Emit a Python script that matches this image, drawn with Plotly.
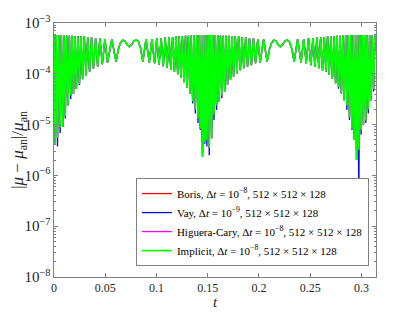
import plotly.graph_objects as go

# time samples (t)
t_vals = [
    0.0000, 0.0011, 0.0022, 0.0034, 0.0047, 0.0060, 0.0072, 0.0085, 0.0098, 0.0110,
    0.0123, 0.0137, 0.0150, 0.0163, 0.0176, 0.0190, 0.0204, 0.0218, 0.0233, 0.0248,
    0.0263, 0.0279, 0.0295, 0.0312, 0.0329, 0.0347, 0.0366, 0.0385, 0.0406, 0.0426,
    0.0448, 0.0471, 0.0497, 0.0522, 0.0564, 0.0605, 0.0630, 0.0649, 0.0671, 0.0693,
    0.0715, 0.0736, 0.0756, 0.0779, 0.0803, 0.0825, 0.0845, 0.0867, 0.0898, 0.0930,
    0.0955, 0.0981, 0.1003, 0.1025, 0.1046, 0.1066, 0.1085, 0.1104, 0.1122, 0.1140,
    0.1157, 0.1175, 0.1191, 0.1207, 0.1222, 0.1238, 0.1253, 0.1268, 0.1283, 0.1297,
    0.1311, 0.1326, 0.1339, 0.1353, 0.1366, 0.1379, 0.1392, 0.1405, 0.1416, 0.1428,
    0.1439, 0.1449, 0.1460, 0.1471, 0.1482, 0.1492, 0.1503, 0.1515, 0.1526, 0.1538,
    0.1550, 0.1561, 0.1574, 0.1586, 0.1598, 0.1611, 0.1624, 0.1637, 0.1651, 0.1665,
    0.1679, 0.1693, 0.1708, 0.1722, 0.1737, 0.1752, 0.1769, 0.1785, 0.1801, 0.1818,
    0.1835, 0.1852, 0.1870, 0.1888, 0.1907, 0.1926, 0.1946, 0.1966, 0.1988, 0.2011,
    0.2045, 0.2080, 0.2104, 0.2124, 0.2144, 0.2167, 0.2188, 0.2209, 0.2229, 0.2252,
    0.2275, 0.2297, 0.2319, 0.2343, 0.2377, 0.2410, 0.2436, 0.2461, 0.2483, 0.2506,
    0.2526, 0.2546, 0.2565, 0.2584, 0.2602, 0.2620, 0.2637, 0.2653, 0.2669, 0.2685,
    0.2701, 0.2716, 0.2732, 0.2747, 0.2761, 0.2776, 0.2790, 0.2804, 0.2818, 0.2831,
    0.2845, 0.2858, 0.2870, 0.2883, 0.2895, 0.2907, 0.2919, 0.2931, 0.2942, 0.2952,
    0.2963, 0.2974, 0.2985, 0.2996, 0.3007, 0.3019, 0.3030, 0.3042, 0.3054, 0.3066,
    0.3079, 0.3092, 0.3105, 0.3118, 0.3132, 0.3142,
]

# relative error, Implicit (green) -- Boris and Higuera-Cary lie underneath it
err_implicit = [
    5.8e-4, 4.0e-6, 5.8e-4, 5.6e-6, 5.75e-4, 8.9e-6, 5.75e-4, 9.1e-6, 5.7e-4, 1.45e-5,
    5.65e-4, 2.4e-5, 5.6e-4, 3.8e-5, 5.6e-4, 4.0e-5, 5.5e-4, 5.0e-5, 5.5e-4, 6.3e-5,
    5.5e-4, 7.8e-5, 5.45e-4, 9.3e-5, 5.3e-4, 1.10e-4, 5.25e-4, 1.26e-4, 5.0e-4, 1.38e-4,
    5.0e-4, 1.55e-4, 4.8e-4, 1.66e-4, 4.75e-4, 1.74e-4, 3.16e-4, 4.07e-4, 4.62e-4, 4.37e-4,
    3.72e-4, 3.39e-4, 3.72e-4, 4.37e-4, 4.68e-4, 4.27e-4, 3.16e-4, 1.74e-4, 4.8e-4, 1.66e-4,
    4.8e-4, 1.62e-4, 5.0e-4, 1.51e-4, 5.0e-4, 1.41e-4, 5.25e-4, 1.32e-4, 5.25e-4, 1.20e-4,
    5.3e-4, 1.10e-4, 5.5e-4, 9.8e-5, 5.5e-4, 8.3e-5, 5.5e-4, 6.8e-5, 5.6e-4, 5.4e-5,
    5.6e-4, 4.0e-5, 5.7e-4, 2.9e-5, 5.75e-4, 2.0e-5, 5.75e-4, 1.32e-5, 5.8e-4, 8.3e-6,
    5.8e-4, 2.3e-6, 5.8e-4, 4.5e-6, 5.8e-4, 5.0e-6, 5.8e-4, 3.5e-6, 5.8e-4, 5.4e-6,
    5.8e-4, 1.58e-5, 5.75e-4, 2.4e-5, 5.75e-4, 2.8e-5, 5.7e-4, 3.8e-5, 5.6e-4, 4.5e-5,
    5.6e-4, 6.0e-5, 5.6e-4, 7.6e-5, 5.5e-4, 8.9e-5, 5.5e-4, 1.02e-4, 5.5e-4, 1.17e-4,
    5.3e-4, 1.29e-4, 5.25e-4, 1.38e-4, 5.0e-4, 1.48e-4, 5.0e-4, 1.62e-4, 4.8e-4, 1.66e-4,
    4.75e-4, 1.74e-4, 3.16e-4, 4.07e-4, 4.62e-4, 4.37e-4, 3.72e-4, 3.39e-4, 3.72e-4, 4.37e-4,
    4.68e-4, 4.27e-4, 3.16e-4, 1.74e-4, 4.8e-4, 1.66e-4, 4.8e-4, 1.62e-4, 5.0e-4, 1.48e-4,
    5.0e-4, 1.38e-4, 5.25e-4, 1.29e-4, 5.25e-4, 1.17e-4, 5.3e-4, 1.10e-4, 5.5e-4, 9.5e-5,
    5.5e-4, 8.1e-5, 5.5e-4, 6.5e-5, 5.6e-4, 5.5e-5, 5.6e-4, 4.1e-5, 5.7e-4, 3.0e-5,
    5.75e-4, 2.4e-5, 5.75e-4, 1.41e-5, 5.8e-4, 8.3e-6, 5.8e-4, 5.0e-6, 5.8e-4, 2.0e-6,
    5.8e-4, 3.2e-6, 5.8e-4, 7.9e-6, 5.8e-4, 1.0e-5, 5.75e-4, 1.20e-5, 5.75e-4, 2.0e-5,
    5.75e-4, 3.0e-5, 5.7e-4, 5.0e-5, 5.7e-4, 4.0e-4,
]

err_boris = list(err_implicit)
err_higuera = list(err_implicit)

# relative error, Vay (blue)
err_vay = [
    5.8e-4, 4.0e-6, 5.8e-4, 3.7e-6, 5.75e-4, 6.8e-6, 5.75e-4, 9.1e-6, 5.7e-4, 1.32e-5,
    5.65e-4, 2.4e-5, 5.6e-4, 3.2e-5, 5.6e-4, 4.0e-5, 5.5e-4, 5.0e-5, 5.5e-4, 6.0e-5,
    5.5e-4, 7.8e-5, 5.45e-4, 9.3e-5, 5.3e-4, 1.10e-4, 5.25e-4, 1.26e-4, 5.0e-4, 1.38e-4,
    5.0e-4, 1.55e-4, 4.8e-4, 1.66e-4, 4.75e-4, 1.74e-4, 3.16e-4, 4.07e-4, 4.62e-4, 4.37e-4,
    3.72e-4, 3.39e-4, 3.72e-4, 4.37e-4, 4.68e-4, 4.27e-4, 3.16e-4, 1.74e-4, 4.8e-4, 1.66e-4,
    4.8e-4, 1.62e-4, 5.0e-4, 1.51e-4, 5.0e-4, 1.41e-4, 5.25e-4, 1.32e-4, 5.25e-4, 1.20e-4,
    5.3e-4, 1.10e-4, 5.5e-4, 9.8e-5, 5.5e-4, 8.3e-5, 5.5e-4, 6.8e-5, 5.6e-4, 5.4e-5,
    5.6e-4, 4.0e-5, 5.7e-4, 2.6e-5, 5.75e-4, 1.66e-5, 5.75e-4, 1.07e-5, 5.8e-4, 7.8e-6,
    5.8e-4, 2.8e-6, 5.8e-4, 4.2e-6, 5.8e-4, 3.7e-6, 5.8e-4, 2.5e-6, 5.8e-4, 5.4e-6,
    5.8e-4, 1.23e-5, 5.75e-4, 1.95e-5, 5.75e-4, 2.8e-5, 5.7e-4, 3.3e-5, 5.6e-4, 4.5e-5,
    5.6e-4, 6.0e-5, 5.6e-4, 7.6e-5, 5.5e-4, 8.9e-5, 5.5e-4, 1.02e-4, 5.5e-4, 1.17e-4,
    5.3e-4, 1.29e-4, 5.25e-4, 1.38e-4, 5.0e-4, 1.48e-4, 5.0e-4, 1.62e-4, 4.8e-4, 1.66e-4,
    4.75e-4, 1.74e-4, 3.16e-4, 4.07e-4, 4.62e-4, 4.37e-4, 3.72e-4, 3.39e-4, 3.72e-4, 4.37e-4,
    4.68e-4, 4.27e-4, 3.16e-4, 1.74e-4, 4.8e-4, 1.66e-4, 4.8e-4, 1.62e-4, 5.0e-4, 1.48e-4,
    5.0e-4, 1.38e-4, 5.25e-4, 1.29e-4, 5.25e-4, 1.17e-4, 5.3e-4, 1.10e-4, 5.5e-4, 9.5e-5,
    5.5e-4, 8.1e-5, 5.5e-4, 6.5e-5, 5.6e-4, 5.1e-5, 5.6e-4, 4.1e-5, 5.7e-4, 3.0e-5,
    5.75e-4, 1.95e-5, 5.75e-4, 1.23e-5, 5.8e-4, 7.8e-6, 5.8e-4, 5.0e-6, 5.8e-4, 2.0e-6,
    5.8e-4, 4.5e-7, 5.8e-4, 6.3e-6, 5.8e-4, 1.0e-5, 5.75e-4, 1.07e-5, 5.75e-4, 1.66e-5,
    5.75e-4, 3.0e-5, 5.7e-4, 4.5e-5, 5.7e-4, 4.0e-4,
]

series_names = [
    "Boris, Δ<i>t</i> = 10<sup>−8</sup>, 512 × 512 × 128",
    "Vay, Δ<i>t</i> = 10<sup>−9</sup>, 512 × 512 × 128",
    "Higuera-Cary, Δ<i>t</i> = 10<sup>−8</sup>, 512 × 512 × 128",
    "Implicit, Δ<i>t</i> = 10<sup>−8</sup>, 512 × 512 × 128",
]
series_values = [err_boris, err_vay, err_higuera, err_implicit]
series_colors = ["#ff0000", "#0000ff", "#ff00ff", "#00ff00"]
series_widths = [1.3, 1.3, 1.3, 1.7]

x_tickvals = [0, 0.05, 0.1, 0.15, 0.2, 0.25, 0.3]
x_ticktext = ["0", "0.05", "0.1", "0.15", "0.2", "0.25", "0.3"]

FONT = "Liberation Serif"
AXC = "#808080"

fig = go.Figure()
for name, vals, col, w in zip(series_names, series_values, series_colors, series_widths):
    fig.add_trace(go.Scatter(x=t_vals, y=vals, mode="lines", name=name,
                             line=dict(color=col, width=w)))

# the page body adds an 8px offset; the figure is sized to fit the 415x312 window
fig.update_layout(
    width=405, height=302,
    margin=dict(l=46, r=37, t=15, b=33),
    paper_bgcolor="white", plot_bgcolor="white",
    font=dict(family=FONT, size=12, color="#262626"),
    showlegend=True,
    legend=dict(x=0.978, xanchor="right", y=0.043, yanchor="bottom",
                bgcolor="white", bordercolor=AXC, borderwidth=1,
                font=dict(family=FONT, size=11, color="#000000"),
                itemwidth=30, tracegroupgap=0),
)
fig.update_xaxes(
    range=[0, 0.31416], tickvals=x_tickvals, ticktext=x_ticktext,
    ticks="inside", ticklen=4, tickcolor=AXC, showline=True, linecolor=AXC,
    linewidth=1, mirror="ticks", showgrid=False, zeroline=False,
    tickfont=dict(family=FONT, size=12, color="#262626"),
    title=dict(text="<i>t</i>", font=dict(family=FONT, size=15, color="#262626"), standoff=3),
    automargin=False,
)
fig.update_yaxes(
    type="log", range=[-8, -3], dtick=1, exponentformat="power",
    ticks="inside", ticklen=4, tickcolor=AXC, showline=True, linecolor=AXC,
    linewidth=1, mirror="ticks", showgrid=False, zeroline=False,
    minor=dict(ticks="inside", ticklen=2, tickcolor=AXC, showgrid=False),
    tickfont=dict(family=FONT, size=12, color="#262626"),
    title=dict(text="|<i>μ</i> − <i>μ</i><sub>an</sub>|/<i>μ</i><sub>an</sub>",
               font=dict(family=FONT, size=17, color="#262626"), standoff=1),
    automargin=False,
)

fig.write_html("out.html")
